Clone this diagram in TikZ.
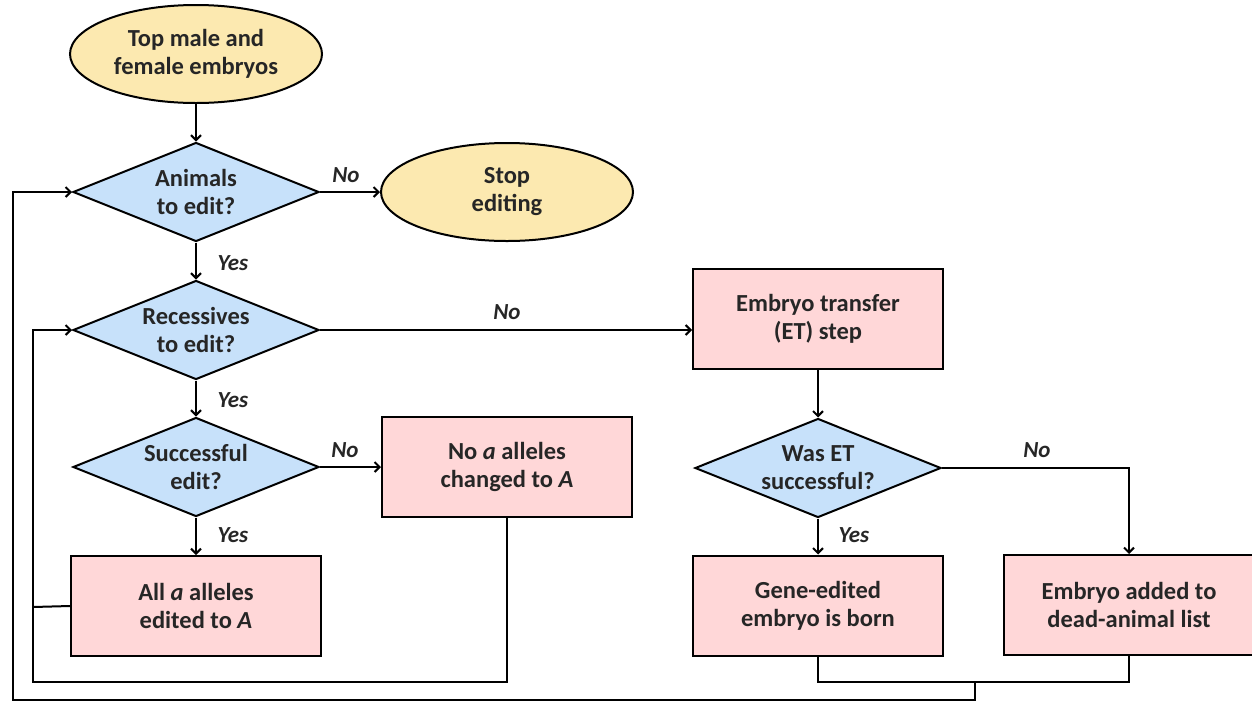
\documentclass[tikz,border=0pt]{standalone}
\usepackage{fontspec}
\setmainfont{Carlito}
\usetikzlibrary{shapes.geometric,arrows.meta}
\definecolor{yel}{RGB}{252,233,176}
\definecolor{blu}{RGB}{199,225,250}
\definecolor{pnk}{RGB}{255,215,216}
\begin{document}
\begin{tikzpicture}[x=1pt,y=-1pt,
  line width=2pt,
  txt/.style={font=\bfseries\fontsize{24.5}{28}\selectfont, align=center, text=black!85},
  term/.style={txt, ellipse, draw, fill=yel, inner sep=0pt, minimum width=252pt, minimum height=98pt},
  dec/.style={txt, diamond, draw, fill=blu, inner sep=0pt, aspect=2.5, minimum width=246pt, minimum height=99pt},
  proc/.style={txt, rectangle, draw, fill=pnk, inner sep=0pt, minimum width=250pt, minimum height=100pt},
  lbl/.style={font=\bfseries\itshape\fontsize{23}{26}\selectfont, text=black!85},
  arr/.style={-{Straight Barb[length=5pt,width=10pt,line width=2pt]}}
]
\useasboundingbox (0,0) rectangle (1252,702);

\node[term] (top) at (196,54) {Top male and\\female embryos};
\node[dec] (d1) at (196,192) {Animals\\to edit?};
\node[term] (stop) at (507,192) {Stop\\editing};
\node[dec] (d2) at (196,330) {Recessives\\to edit?};
\node[dec] (d3) at (196,467) {Successful\\edit?};
\node[proc] (noa) at (507,467) {No \textit{a} alleles\\changed to \textit{A}};
\node[proc] (alla) at (196,606) {All \textit{a} alleles\\edited to \textit{A}};
\node[proc] (et) at (818,319) {Embryo transfer\\(ET) step};
\node[dec] (d4) at (818,468) {Was ET\\successful?};
\node[proc] (gene) at (818,605.5) {Gene-edited\\embryo is born};
\node[proc] (dead) at (1129,605) {Embryo added to\\dead-animal list};

\coordinate (c1) at (33,607);
\coordinate (c2) at (33,682);
\coordinate (c3) at (818,682);
\coordinate (c4) at (975,682);
\coordinate (c5) at (975,700);
\coordinate (c6) at (13,700);
\coordinate (c7) at (1129,468);

\draw[arr] (top) -- (d1);
\draw[arr] (d1) -- (stop);
\draw[arr] (d1) -- (d2);
\draw[arr] (d2.east) -- (et.west |- d2.east);
\draw[arr] (d2) -- (d3);
\draw[arr] (d3) -- (noa);
\draw[arr] (d3) -- (alla);
\draw[arr] (et) -- (d4);
\draw[arr] (d4) -- (gene);
\draw[arr] (d4.east) -- (c7) -- (dead.north);

\draw (alla.west) -- (c1);
\draw[arr] (noa.south) |- (c2) |- (d2.west);
\draw (gene.south) |- (c3) -- (c4) -| (dead.south);
\draw[arr] (c4) -- (c5) -- (c6) |- (d1.west);

\node[lbl] (n1) at (346,175) {No};
\node[lbl] (y1) at (233,263) {Yes};
\node[lbl] (n2) at (507,312) {No};
\node[lbl] (y2) at (233,400) {Yes};
\node[lbl] (n3) at (345,450) {No};
\node[lbl] (y3) at (233,535) {Yes};
\node[lbl] (y4) at (854,535) {Yes};
\node[lbl] (n4) at (1037,450) {No};
\end{tikzpicture}
\end{document}
